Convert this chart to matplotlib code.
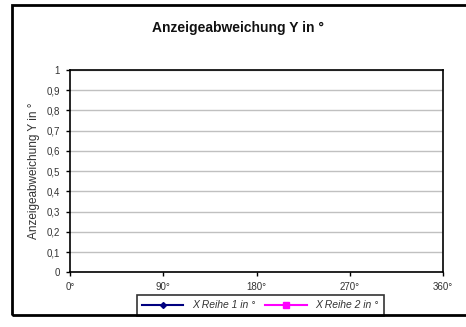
import matplotlib.pyplot as plt
import matplotlib
from matplotlib.patches import Rectangle

matplotlib.rcParams['font.family'] = ['Liberation Sans', 'DejaVu Sans']
matplotlib.rcParams['font.size'] = 7

# Daten (Diagramm ist leer)
x_ticks = [0, 90, 180, 270, 360]
x_labels = ['0°', '90°', '180°', '270°', '360°']
y_ticks = [0, 0.1, 0.2, 0.3, 0.4, 0.5, 0.6, 0.7, 0.8, 0.9, 1]
y_labels = ['0', '0,1', '0,2', '0,3', '0,4', '0,5', '0,6', '0,7', '0,8', '0,9', '1']
reihe1_x = []
reihe1_y = []
reihe2_x = []
reihe2_y = []

fig = plt.figure(figsize=(4.66, 3.27), dpi=100)
fig.patches.append(Rectangle((0.026, 0.037), 1.0, 0.948, transform=fig.transFigure,
                             fill=False, edgecolor='black', linewidth=2))

ax = fig.add_axes([0.150, 0.167, 0.801, 0.619])
ax.plot(reihe1_x, reihe1_y, color='#000080', marker='D', markersize=3, linewidth=1.5,
        label='X Reihe 1 in °')
ax.plot(reihe2_x, reihe2_y, color='#ff00ff', marker='s', markersize=4.5, linewidth=1.5,
        label='X Reihe 2 in °')

ax.set_xlim(0, 360)
ax.set_ylim(0, 1)
ax.set_xticks(x_ticks)
ax.set_xticklabels(x_labels)
ax.set_yticks(y_ticks)
ax.set_yticklabels(y_labels)
ax.tick_params(direction='out', length=3, width=1, colors='black', labelcolor='#333333', pad=4)
ax.grid(axis='y', color='#c0c0c0', linewidth=1)
ax.set_axisbelow(True)
for s in ax.spines.values():
    s.set_linewidth(1.2)

ax.set_ylabel('Anzeigeabweichung Y in °', fontsize=8.5, color='#333333', labelpad=5)
fig.text(0.51, 0.914, 'Anzeigeabweichung Y in °', ha='center', va='center',
         fontsize=10, fontweight='bold', color='#111111')

leg = ax.legend(loc='center', bbox_to_anchor=(0.51, -0.163), ncol=2, frameon=True,
                fancybox=False, edgecolor='black', handlelength=4, columnspacing=1.0,
                borderpad=0.5, prop={'style': 'italic', 'size': 7.5})
leg.get_frame().set_linewidth(1.2)
for t in leg.get_texts():
    t.set_color('#333333')

plt.savefig('out.png', dpi=100)
